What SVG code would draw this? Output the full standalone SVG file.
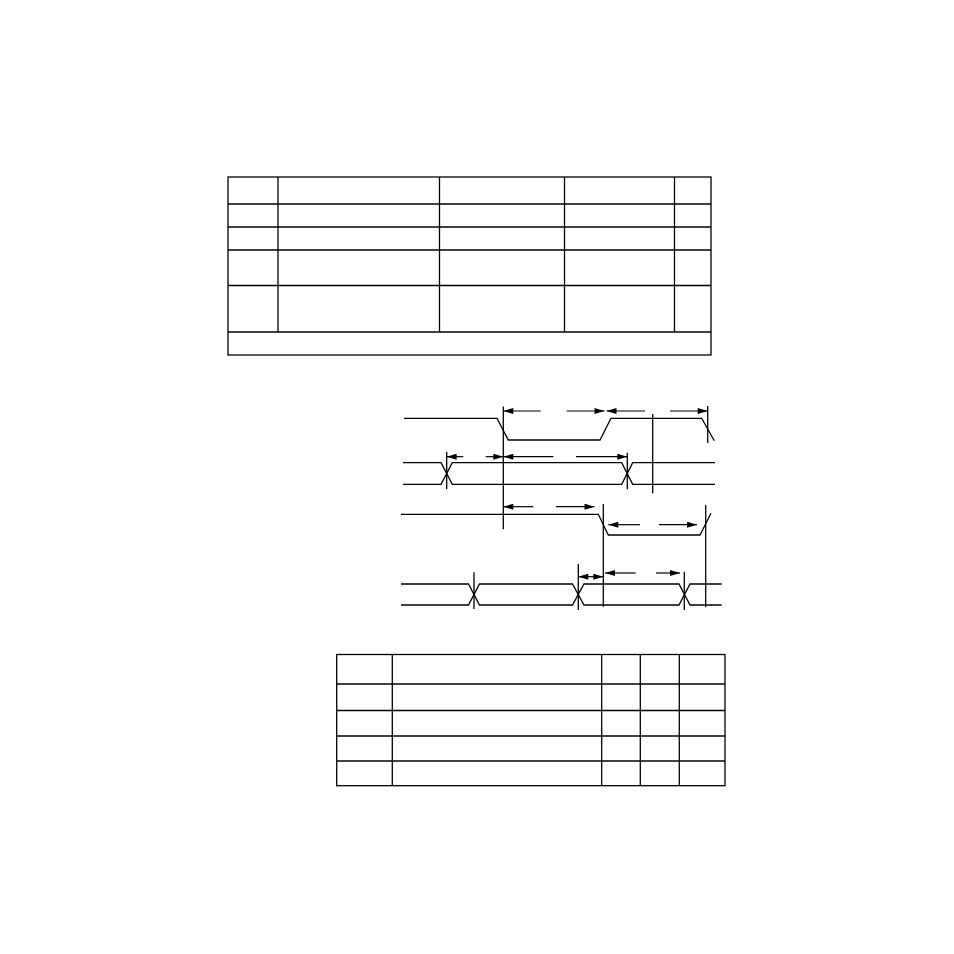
<svg xmlns="http://www.w3.org/2000/svg" width="954" height="954" viewBox="0 0 954 954">
<defs>
<style>
.ln{fill:none;stroke:#000;stroke-width:1.3}
.ar{fill:none;stroke:#000;stroke-width:1.2}
.ae{marker-end:url(#ah)}
.as{marker-start:url(#ah)}
</style>
<marker id="ah" viewBox="0 0 10 6" refX="10" refY="3" markerWidth="11" markerHeight="6" markerUnits="userSpaceOnUse" orient="auto-start-reverse">
<path d="M0,0 L10,3 L0,6 z" fill="#000"/>
</marker>
</defs>
<rect width="954" height="954" fill="#fff"/>

<g id="table1" class="ln">
<rect x="228" y="177" width="483" height="178"/>
<line x1="228" y1="204" x2="711" y2="204"/>
<line x1="228" y1="227" x2="711" y2="227"/>
<line x1="228" y1="250" x2="711" y2="250"/>
<line x1="228" y1="285.5" x2="711" y2="285.5"/>
<line x1="228" y1="332" x2="711" y2="332"/>
<line x1="278" y1="177" x2="278" y2="332"/>
<line x1="439.5" y1="177" x2="439.5" y2="332"/>
<line x1="564.5" y1="177" x2="564.5" y2="332"/>
<line x1="674.5" y1="177" x2="674.5" y2="332"/>
</g>

<g id="signal1" class="ln">
<polyline points="404,418.3 497,418.3 508.3,440 600,440 611,418.3 701.7,418.3 714.3,440.7"/>
</g>
<g id="signal2" class="ln">
<polyline points="403,462.7 441,462.7 452.3,484.3 621.7,484.3 632.7,462.7 715,462.7"/>
<polyline points="403,484.3 441,484.3 452.3,462.7 621.7,462.7 632.7,484.3 715,484.3"/>
</g>
<g id="signal3" class="ln">
<polyline points="401,514.3 598.3,514.3 608.3,535 700,535 711,513.3"/>
</g>
<g id="signal4" class="ln">
<polyline points="401,584 468.5,584 479.5,605 572.5,605 584,584 679,584 690,605 721.7,605"/>
<polyline points="401,605 468.5,605 479.5,584 572.5,584 584,605 679,605 690,584 721.7,584"/>
</g>

<g id="connectors">
<g class="ln">
<line x1="503.3" y1="406.5" x2="503.3" y2="529.3"/>
<line x1="707.7" y1="406" x2="707.7" y2="443"/>
<line x1="652.7" y1="414" x2="652.7" y2="493.3"/>
<line x1="446.7" y1="451.7" x2="446.7" y2="489.3"/>
<line x1="627.3" y1="452.7" x2="627.3" y2="489.3"/>
<line x1="603.3" y1="504" x2="603.3" y2="606.7"/>
<line x1="705.7" y1="505" x2="705.7" y2="607.3"/>
<line x1="474" y1="572.3" x2="474" y2="609"/>
<line x1="578.3" y1="564" x2="578.3" y2="610"/>
<line x1="684.3" y1="571.7" x2="684.3" y2="610"/>
</g>
<g class="ar">
<line class="as" x1="503.3" y1="411" x2="540.7" y2="411"/>
<line class="ae" x1="566.7" y1="411" x2="604.5" y2="411"/>
<line class="as" x1="606.5" y1="411" x2="645" y2="411"/>
<line class="ae" x1="670" y1="411" x2="707.7" y2="411"/>

<line class="as" x1="446.7" y1="456.7" x2="463.3" y2="456.7"/>
<line class="ae" x1="485.7" y1="456.7" x2="503.3" y2="456.7"/>
<line class="as" x1="503.3" y1="456.7" x2="553.3" y2="456.7"/>
<line class="ae" x1="576" y1="456.7" x2="627.3" y2="456.7"/>

<line class="as" x1="503.3" y1="506.7" x2="533.3" y2="506.7"/>
<line class="ae" x1="556" y1="506.7" x2="594.5" y2="506.7"/>
<line class="as" x1="608.3" y1="524.7" x2="640" y2="524.7"/>
<line class="ae" x1="659" y1="524.7" x2="697" y2="524.7"/>

<line class="as ae" x1="578.3" y1="576.7" x2="603.3" y2="576.7"/>
<line class="as" x1="605" y1="573" x2="635.7" y2="573"/>
<line class="ae" x1="656" y1="573" x2="680" y2="573"/>
</g>
</g>

<g id="table2" class="ln">
<rect x="336.7" y="654.5" width="388.3" height="131.2"/>
<line x1="336.7" y1="684" x2="725" y2="684"/>
<line x1="336.7" y1="710.5" x2="725" y2="710.5"/>
<line x1="336.7" y1="736" x2="725" y2="736"/>
<line x1="336.7" y1="761" x2="725" y2="761"/>
<line x1="392.3" y1="654.5" x2="392.3" y2="785.7"/>
<line x1="601.7" y1="654.5" x2="601.7" y2="785.7"/>
<line x1="640.3" y1="654.5" x2="640.3" y2="785.7"/>
<line x1="679.3" y1="654.5" x2="679.3" y2="785.7"/>
</g>
</svg>
